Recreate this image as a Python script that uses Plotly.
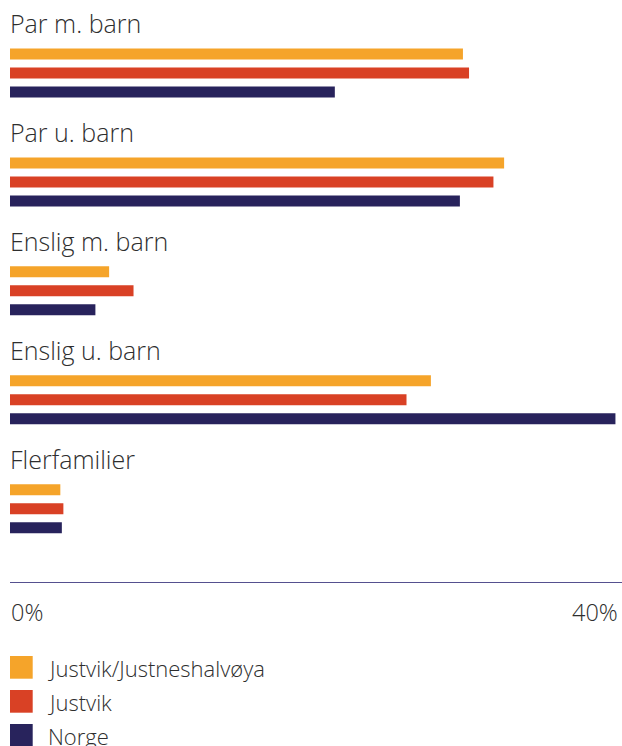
import plotly.graph_objects as go

categories = ["Par m. barn", "Par u. barn", "Enslig m. barn", "Enslig u. barn", "Flerfamilier"]
series_names = ["Justvik/Justneshalvøya", "Justvik", "Norge"]
justneshalvoya = [29.7, 32.4, 6.5, 27.6, 3.3]
justvik = [30.1, 31.7, 8.1, 26.0, 3.5]
norge = [21.3, 29.5, 5.6, 39.7, 3.4]
tick_vals = [0, 40]
tick_text = ["0%", "40%"]

colors = ["#F5A42A", "#D94125", "#28235C"]
series = [justneshalvoya, justvik, norge]

FONT = "Open Sans"
TEXT_COLOR = "#2E2E2E"

bar_w = 0.101
gap = 0.1745
offsets = [-gap - bar_w / 2, -bar_w / 2, gap - bar_w / 2]

fig = go.Figure()
for name, vals, col, off in zip(series_names, series, colors, offsets):
    fig.add_trace(go.Bar(
        y=categories, x=vals, orientation="h", name=name,
        marker=dict(color=col, line=dict(width=0)),
        width=bar_w, offset=off, showlegend=False,
        hoverinfo="x+y",
    ))

annotations = []
for cat in categories:
    annotations.append(dict(
        x=0, xref="x", y=cat, yref="y", text=cat, showarrow=False,
        xanchor="left", yanchor="middle", yshift=50, xshift=-2,
        font=dict(family=FONT, size=25, color=TEXT_COLOR, weight=300),
    ))

for v, t in zip(tick_vals, tick_text):
    annotations.append(dict(
        x=v, xref="x", y=0, yref="paper", text=t, showarrow=False,
        xanchor="left" if v == tick_vals[0] else "right", yanchor="middle",
        yshift=-30, xshift=-1 if v == tick_vals[0] else 0,
        font=dict(family=FONT, size=23.5, color=TEXT_COLOR, weight=300),
    ))

shapes = []
for i, (name, col) in enumerate(zip(series_names, colors)):
    top = -74 - 34 * i
    shapes.append(dict(
        type="rect", xref="paper", yref="paper",
        xsizemode="pixel", ysizemode="pixel", xanchor=0, yanchor=0,
        x0=0, x1=22.7, y0=top, y1=top - 22.7,
        fillcolor=col, line=dict(width=0),
    ))
    annotations.append(dict(
        x=0, xref="paper", y=0, yref="paper", text=name, showarrow=False,
        xanchor="left", yanchor="middle", xshift=36, yshift=top - 11.5,
        font=dict(family=FONT, size=22, color=TEXT_COLOR, weight=300),
    ))

fig.update_layout(
    width=622, height=746,
    margin=dict(l=10, r=0, t=0, b=164),
    plot_bgcolor="white", paper_bgcolor="white",
    barmode="overlay",
    showlegend=False,
    xaxis=dict(range=[0, 40.13], showgrid=False, zeroline=False,
               showticklabels=False, ticks="", showline=True,
               linecolor="#55508F", linewidth=1, fixedrange=True),
    yaxis=dict(range=[4.673, -0.670], showgrid=False, zeroline=False,
               showticklabels=False, ticks="", showline=False,
               type="category", categoryorder="array", categoryarray=categories,
               fixedrange=True),
    annotations=annotations,
    shapes=shapes,
)

fig.write_html("out.html")
